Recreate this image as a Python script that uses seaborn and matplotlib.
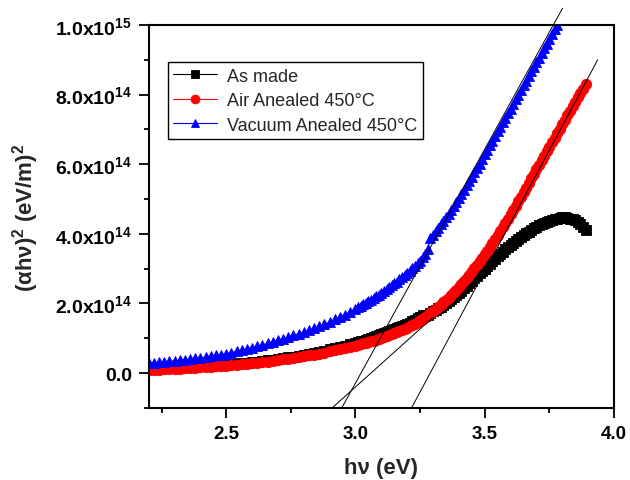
import matplotlib
matplotlib.use('Agg')
import matplotlib.pyplot as plt
import seaborn as sns
import numpy as np

# ---------------- data (y in units of 1e14 (eV/m)^2) ----------------
hv = [2.20, 2.22, 2.24, 2.26, 2.28, 2.30, 2.32, 2.34, 2.36, 2.38,
      2.40, 2.42, 2.44, 2.46, 2.48, 2.50, 2.52, 2.54, 2.56, 2.58,
      2.60, 2.62, 2.64, 2.66, 2.68, 2.70, 2.72, 2.74, 2.76, 2.78,
      2.80, 2.82, 2.84, 2.86, 2.88, 2.90, 2.92, 2.94, 2.96, 2.98,
      3.00,
      3.01, 3.02, 3.03, 3.04, 3.05, 3.06, 3.07, 3.08, 3.09, 3.10,
      3.11, 3.12, 3.13, 3.14, 3.15, 3.16, 3.17, 3.18, 3.19, 3.20,
      3.21, 3.22, 3.23, 3.24, 3.25, 3.26, 3.27, 3.28, 3.29, 3.30,
      3.31, 3.32, 3.33, 3.34, 3.35, 3.36, 3.37, 3.38, 3.39, 3.40,
      3.41, 3.42, 3.43, 3.44, 3.45, 3.46, 3.47, 3.48, 3.49, 3.50,
      3.51, 3.52, 3.53, 3.54, 3.55, 3.56, 3.57, 3.58, 3.59, 3.60,
      3.61, 3.62, 3.63, 3.64, 3.65, 3.66, 3.67, 3.68, 3.69, 3.70,
      3.71, 3.72, 3.73, 3.74, 3.75, 3.76, 3.77, 3.78, 3.79, 3.80,
      3.81, 3.82, 3.83, 3.84, 3.85, 3.86, 3.87, 3.88, 3.89]

as_made = [0.12, 0.125, 0.13, 0.14, 0.145, 0.15, 0.16, 0.165, 0.175, 0.18,
           0.19, 0.20, 0.21, 0.22, 0.23, 0.24, 0.25, 0.265, 0.28, 0.295,
           0.31, 0.325, 0.345, 0.365, 0.385, 0.405, 0.425, 0.45, 0.475, 0.50,
           0.525, 0.555, 0.585, 0.615, 0.645, 0.68, 0.715, 0.75, 0.79, 0.83,
           0.87,
           0.89, 0.91, 0.93, 0.96, 0.98, 1.01, 1.03, 1.06, 1.09, 1.12,
           1.15, 1.18, 1.20, 1.23, 1.26, 1.29, 1.32, 1.35, 1.38, 1.42,
           1.45, 1.49, 1.53, 1.57, 1.61, 1.66, 1.64, 1.68, 1.72, 1.77,
           1.81, 1.86, 1.91, 1.96, 2.01, 2.07, 2.12, 2.18, 2.24, 2.30,
           2.37, 2.44, 2.51, 2.58, 2.65, 2.72, 2.79, 2.86, 2.93, 3.00,
           3.07, 3.14, 3.21, 3.28, 3.35, 3.42, 3.49, 3.56, 3.62, 3.68,
           3.74, 3.80, 3.86, 3.91, 3.96, 4.01, 4.06, 4.11, 4.16, 4.20,
           4.24, 4.28, 4.31, 4.34, 4.37, 4.40, 4.42, 4.44, 4.46, 4.47,
           4.47, 4.46, 4.44, 4.42, 4.39, 4.35, 4.29, 4.21, 4.10]

air_annealed = [0.09, 0.095, 0.10, 0.11, 0.115, 0.12, 0.13, 0.135, 0.145, 0.15,
                0.16, 0.17, 0.18, 0.19, 0.20, 0.21, 0.22, 0.235, 0.25, 0.265,
                0.28, 0.295, 0.31, 0.33, 0.35, 0.37, 0.39, 0.41, 0.43, 0.455,
                0.48, 0.505, 0.53, 0.56, 0.59, 0.62, 0.65, 0.68, 0.715, 0.75,
                0.79,
                0.81, 0.83, 0.85, 0.87, 0.89, 0.91, 0.93, 0.955, 0.98, 1.00,
                1.03, 1.05, 1.08, 1.11, 1.14, 1.17, 1.20, 1.23, 1.27, 1.30,
                1.34, 1.38, 1.42, 1.46, 1.51, 1.56, 1.61, 1.66, 1.72, 1.78,
                1.84, 1.90, 1.96, 2.03, 2.10, 2.17, 2.24, 2.32, 2.40, 2.48,
                2.56, 2.65, 2.74, 2.83, 2.92, 3.01, 3.11, 3.21, 3.31, 3.41,
                3.52, 3.63, 3.74, 3.85, 3.96, 4.08, 4.20, 4.32, 4.44, 4.56,
                4.69, 4.81, 4.94, 5.07, 5.20, 5.33, 5.46, 5.59, 5.72, 5.85,
                5.98, 6.11, 6.24, 6.37, 6.50, 6.63, 6.76, 6.89, 7.02, 7.15,
                7.28, 7.41, 7.54, 7.67, 7.80, 7.92, 8.05, 8.17, 8.30]

vacuum_annealed = [0.28, 0.29, 0.31, 0.32, 0.335, 0.35, 0.37, 0.38, 0.40, 0.42,
                   0.44, 0.46, 0.48, 0.51, 0.53, 0.56, 0.59, 0.62, 0.66, 0.69,
                   0.73, 0.77, 0.81, 0.85, 0.90, 0.95, 0.99, 1.04, 1.08, 1.13,
                   1.18, 1.23, 1.29, 1.34, 1.40, 1.47, 1.54, 1.61, 1.68, 1.76,
                   1.85,
                   1.89, 1.93, 1.97, 2.02, 2.06, 2.11, 2.16, 2.20, 2.25, 2.30,
                   2.36, 2.41, 2.46, 2.52, 2.58, 2.63, 2.69, 2.75, 2.81, 2.88,
                   2.94, 3.01, 3.08, 3.15, 3.23, 3.32, 3.42, 3.55, 3.88, 3.97,
                   4.07, 4.17, 4.27, 4.37, 4.47, 4.58, 4.69, 4.80, 4.91, 5.03,
                   5.15, 5.27, 5.39, 5.52, 5.64, 5.77, 5.89, 6.02, 6.15, 6.28,
                   6.41, 6.54, 6.68, 6.81, 6.94, 7.07, 7.21, 7.34, 7.47, 7.60,
                   7.73, 7.87, 8.00, 8.13, 8.27, 8.40, 8.53, 8.67, 8.80, 8.93,
                   9.06, 9.20, 9.33, 9.46, 9.60, 9.73, 9.87, 10.00, 10.13]

# tangent (Tauc extrapolation) lines: end points
tan_asmade_x = [2.910, 3.300]
tan_asmade_y = [-1.0, 1.60]
tan_air_x = [3.217, 3.937]
tan_air_y = [-1.0, 9.00]
tan_vac_x = [2.947, 3.801]
tan_vac_y = [-1.0, 10.48]

labels = ["As made", "Air Anealed 450°C", "Vacuum Anealed 450°C"]

xticks = [2.5, 3.0, 3.5, 4.0]
xticklabels = ["2.5", "3.0", "3.5", "4.0"]
xminor = [2.25, 2.75, 3.25, 3.75]
yticks = [0.0, 2.0, 4.0, 6.0, 8.0, 10.0]
yticklabels = ["0.0", "2.0x10$^{14}$", "4.0x10$^{14}$", "6.0x10$^{14}$",
               "8.0x10$^{14}$", "1.0x10$^{15}$"]
yminor = [-1.0, 1.0, 3.0, 5.0, 7.0, 9.0]
SCALE = 1e14

# ---------------- style ----------------
sns.set_theme(style='ticks')
plt.rcParams.update({
    'font.family': ['Liberation Sans', 'DejaVu Sans'],
    'font.weight': 'bold',
    'mathtext.fontset': 'custom',
    'mathtext.rm': 'Liberation Sans:bold',
    'mathtext.bf': 'Liberation Sans:bold',
    'mathtext.it': 'Liberation Sans:bold',
    'mathtext.sf': 'Liberation Sans:bold',
    'mathtext.default': 'bf',
    'axes.linewidth': 1.5,
    'axes.edgecolor': 'black',
    'xtick.color': 'black',
    'ytick.color': 'black',
    'axes.facecolor': 'white',
})

fig = plt.figure(figsize=(6.3, 4.81), dpi=100)
ax = fig.add_axes([0.236, 0.150, 0.7386, 0.796])

series = [(as_made, 'black', 's', labels[0]),
          (air_annealed, 'red', 'o', labels[1]),
          (vacuum_annealed, 'blue', '^', labels[2])]
for vals, col, mk, lab in series:
    n = len(vals)
    sns.lineplot(x=hv[:n], y=np.array(vals) * SCALE, ax=ax, color=col,
                 marker=mk, markersize=7.5, markeredgewidth=0.6,
                 markeredgecolor=col, linewidth=0.8, label=lab, zorder=2)

for tx, ty in [(tan_asmade_x, tan_asmade_y), (tan_air_x, tan_air_y),
               (tan_vac_x, tan_vac_y)]:
    ax.plot(tx, np.array(ty) * SCALE, color='black', linewidth=0.7,
            clip_on=False, zorder=5)

ax.set_xlim(2.2, 4.0)
ax.set_ylim(-1.0 * SCALE, 10.0 * SCALE)
ax.set_xticks(xticks)
ax.set_xticklabels(xticklabels, fontsize=13.5, fontweight='bold')
ax.set_xticks(xminor, minor=True)
ax.set_yticks(np.array(yticks) * SCALE)
ax.set_yticklabels(yticklabels, fontsize=14, fontweight='bold')
ax.set_yticks(np.array(yminor) * SCALE, minor=True)
ax.tick_params(which='major', direction='out', length=7, width=1.3, pad=5)
ax.tick_params(which='minor', direction='out', length=3.5, width=1.3)
ax.tick_params(top=False, right=False)
for sp in ax.spines.values():
    sp.set_color('black')
    sp.set_linewidth(1.5)

ax.set_xlabel("hν (eV)", fontsize=16, fontweight='bold', labelpad=11)
ax.set_ylabel("(αhν)$^2$ (eV/m)$^2$", fontsize=16, fontweight='bold', labelpad=10)

leg = ax.legend(loc='upper left', bbox_to_anchor=(0.041, 0.903), borderaxespad=0,
                frameon=True, fancybox=False, edgecolor='black', framealpha=1,
                prop={'size': 13, 'weight': 'normal'}, handlelength=2.4,
                labelspacing=0.42, borderpad=0.3, handletextpad=0.6,
                markerscale=0.85)
leg.get_frame().set_linewidth(1.0)

fig.savefig('out.png', dpi=100)
